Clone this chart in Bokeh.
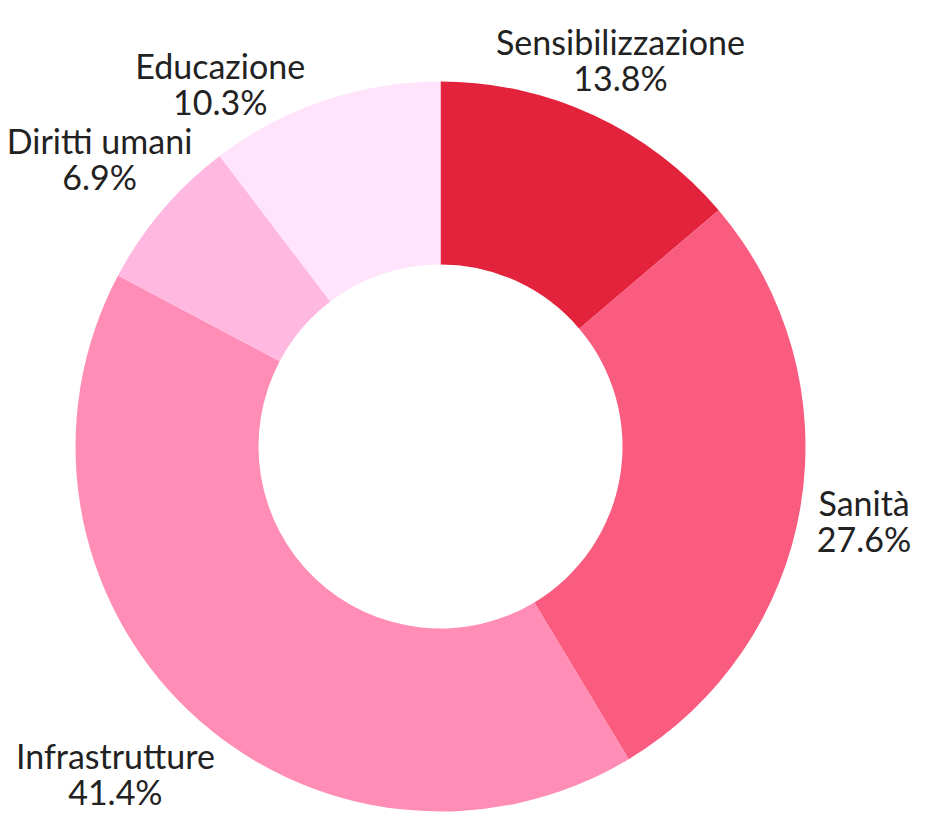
import math
from bokeh.plotting import figure
from bokeh.models import Range1d, ColumnDataSource
from bokeh.core.properties import value
from bokeh.embed import file_html
from bokeh.resources import INLINE

# ---- data ----
categories = ["Sensibilizzazione", "Sanità", "Infrastrutture", "Diritti umani", "Educazione"]
counts = [4, 8, 12, 2, 3]
colors = ["#E3233C", "#F95C7F", "#FF8DB6", "#FFB9E1", "#FFE4FC"]

# ---- label layout (style, not data) ----
label_dist = [427, 430, 461, 446, 425]
label_angle_nudge = [-0.1, -0.6, -1.4, 0.2, 12.6]

W, H = 918, 818
p = figure(width=W, height=H, output_backend="svg", toolbar_location=None,
           x_range=Range1d(0, W), y_range=Range1d(0, H),
           min_border=0, outline_line_color=None)
p.axis.visible = False
p.grid.visible = False
p.background_fill_color = "white"
p.border_fill_color = "white"

cx, cy = 440, H - 446
r_out, r_in = 365, 182
total = sum(counts)

starts, ends, fracs = [], [], []
cum = 0.0
for c in counts:
    f = c / total
    s = math.pi / 2 - cum * 2 * math.pi
    e = s - f * 2 * math.pi
    starts.append(s)
    ends.append(e)
    fracs.append(f)
    cum += f

src = ColumnDataSource(dict(start=starts, end=ends, color=colors))
p.annular_wedge(x=cx, y=cy, inner_radius=r_in, outer_radius=r_out,
                start_angle="start", end_angle="end", direction="clock",
                fill_color="color", line_color=None, source=src)

lx, ly_name, ly_pct, names, pcts = [], [], [], [], []
for i, (name, f) in enumerate(zip(categories, fracs)):
    mid = (starts[i] + ends[i]) / 2 + math.radians(label_angle_nudge[i])
    x = cx + label_dist[i] * math.cos(mid)
    y = cy + label_dist[i] * math.sin(mid)
    lx.append(x)
    ly_name.append(y + 18)
    ly_pct.append(y - 18)
    names.append(name)
    pcts.append(f"{f*100:.1f}%")

p.text(x=lx, y=ly_name, text=names, text_align="center", text_baseline="middle",
       text_font=value("Lato"), text_font_size="34px", text_color="#222222")
p.text(x=lx, y=ly_pct, text=pcts, text_align="center", text_baseline="middle",
       text_font=value("Lato"), text_font_size="34px", text_color="#222222")

open("out.html", "w").write(file_html(p, INLINE))
